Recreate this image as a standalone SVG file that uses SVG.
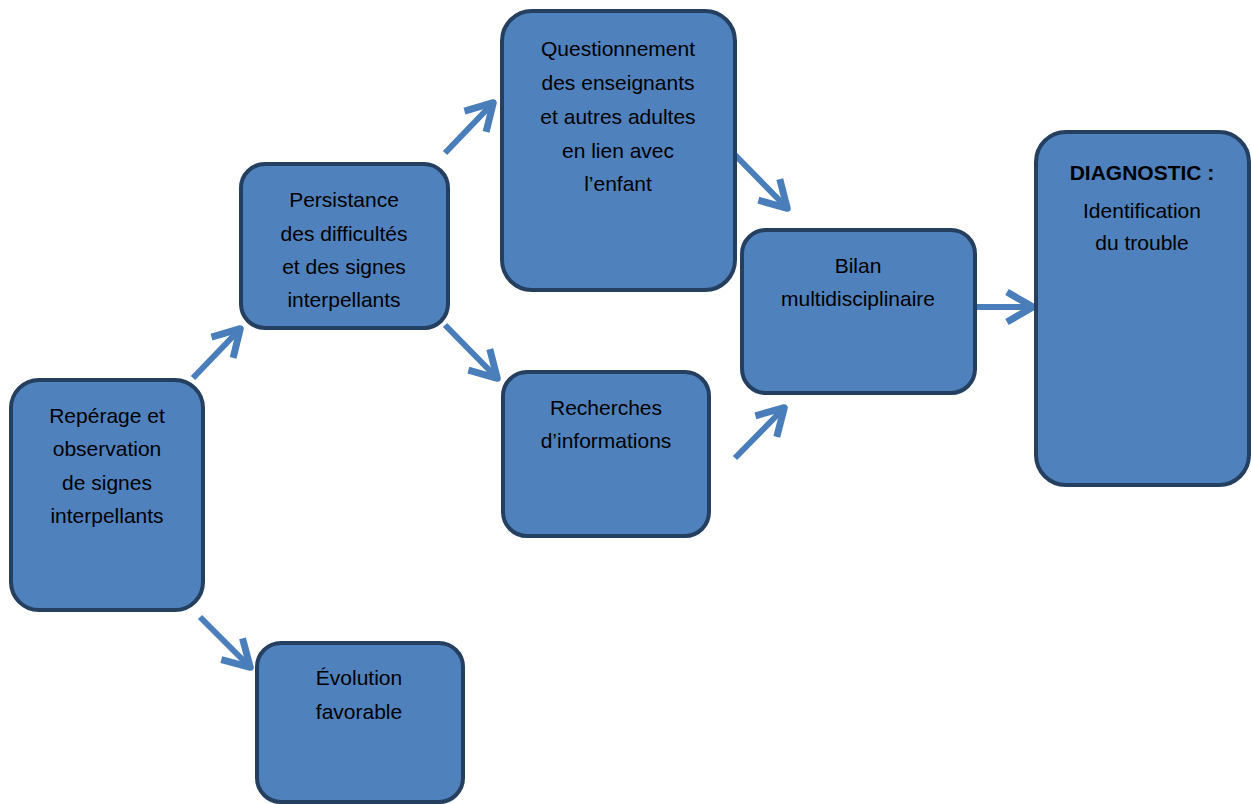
<svg xmlns="http://www.w3.org/2000/svg" width="1251" height="804" viewBox="0 0 1251 804">
<style>
.box{fill:#4F81BD;stroke:#243F60;stroke-width:4}
.t{font-family:"Liberation Sans",Arial,sans-serif;font-size:21px;fill:#000;text-anchor:middle}
.b{font-weight:bold}
.arr{stroke:#4A7EBB;stroke-width:6;fill:none;marker-end:url(#ah)}
</style>
<defs>
<marker id="ah" markerUnits="userSpaceOnUse" markerWidth="40" markerHeight="44" refX="30" refY="22" orient="auto" viewBox="0 0 40 44">
<path d="M3,7 L29,22 L3,37" fill="none" stroke="#4A7EBB" stroke-width="7" stroke-linejoin="round" stroke-linecap="butt"/>
</marker>
</defs>
<rect width="1251" height="804" fill="#fff"/>
<g id="connectors">
<line class="arr" x1="193" y1="378" x2="241" y2="328"/>
<line class="arr" x1="200" y1="617" x2="251" y2="668"/>
<line class="arr" x1="445" y1="153" x2="494" y2="102"/>
<line class="arr" x1="445" y1="325" x2="498" y2="379"/>
<line class="arr" x1="735" y1="155" x2="788" y2="209"/>
<line class="arr" x1="735" y1="458" x2="785" y2="407"/>
<line class="arr" x1="977" y1="307" x2="1034" y2="307"/>
</g>
<g id="reperage">
<rect class="box" x="11" y="380" width="192" height="230" rx="28"/>
<text class="t" x="107" y="423">Repérage et</text>
<text class="t" x="107" y="456">observation</text>
<text class="t" x="107" y="490">de signes</text>
<text class="t" x="107" y="523">interpellants</text>
</g>
<g id="persistance">
<rect class="box" x="241" y="164" width="207" height="164" rx="24"/>
<text class="t" x="344" y="207">Persistance</text>
<text class="t" x="344" y="241">des difficultés</text>
<text class="t" x="344" y="274">et des signes</text>
<text class="t" x="344" y="307">interpellants</text>
</g>
<g id="questionnement">
<rect class="box" x="502" y="11" width="233" height="279" rx="30"/>
<text class="t" x="618" y="56">Questionnement</text>
<text class="t" x="618" y="90">des enseignants</text>
<text class="t" x="618" y="124">et autres adultes</text>
<text class="t" x="618" y="158">en lien avec</text>
<text class="t" x="618" y="191">l’enfant</text>
</g>
<g id="recherches">
<rect class="box" x="503" y="372" width="206" height="164" rx="24"/>
<text class="t" x="606" y="415">Recherches</text>
<text class="t" x="606" y="448">d’informations</text>
</g>
<g id="bilan">
<rect class="box" x="742" y="230" width="233" height="163" rx="24"/>
<text class="t" x="858" y="273">Bilan</text>
<text class="t" x="858" y="306">multidisciplinaire</text>
</g>
<g id="diagnostic">
<rect class="box" x="1036" y="132" width="213" height="353" rx="30"/>
<text class="t b" x="1142" y="180">DIAGNOSTIC :</text>
<text class="t" x="1142" y="218">Identification</text>
<text class="t" x="1142" y="250">du trouble</text>
</g>
<g id="evolution">
<rect class="box" x="257" y="643" width="206" height="159" rx="24"/>
<text class="t" x="359" y="685">Évolution</text>
<text class="t" x="359" y="719">favorable</text>
</g>
</svg>
